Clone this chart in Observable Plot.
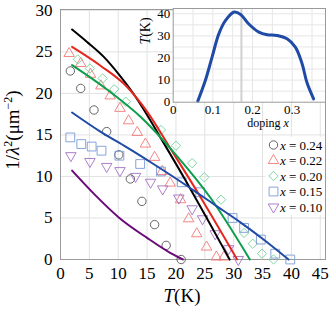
<!DOCTYPE html>
<html><head><meta charset="utf-8">
<script src="https://cdn.jsdelivr.net/npm/d3@7"></script>
<script src="https://cdn.jsdelivr.net/npm/@observablehq/plot@0.6"></script>
<style>
body{margin:0;background:#fff;}
#fig{position:relative;width:332px;height:310px;font-family:"Liberation Serif",serif;}
#fig svg{position:absolute;left:0;top:0;overflow:visible;background:none}
</style></head><body><div id="fig"></div>
<script>
// ---- main chart data: [T (K), 1/lambda^2 (um^-2)] ----
const tempTicks = [0,5,10,15,20,25,30,35,40,45];
const invLambdaTicks = [0,5,10,15,20,25,30];

const x024 = [[1.7,22.7],[3.5,20.6],[5.8,18.0],[8.0,15.4],[10.1,12.6],[12.1,9.7],[14.1,7.0],[16.3,4.2],[18.3,1.7],[20.9,0]];
const x022 = [[1.5,24.8],[3.5,23.6],[5.2,22.3],[7.0,20.9],[8.6,19.7],[10.3,18.2],[11.8,16.7],[13.3,15.3],[14.7,13.9],[16.3,12.3],[17.6,10.6],[19.0,9.2],[20.8,7.2],[22.2,4.9],[23.6,3.1],[25.3,1.5],[27.0,0.3],[28.3,0.3]];
const x020 = [[3.0,24.1],[5.1,23.0],[7.3,21.8],[9.3,20.5],[11.3,19.0],[17.4,15.6],[20.0,13.7],[22.8,11.6],[24.9,9.9],[27.8,7.2],[31.8,3.2],[33.3,1.9],[34.9,0.7],[36.9,0]];
const x015 = [[1.7,14.7],[3.6,13.9],[5.4,13.6],[7.1,13.1],[10.2,12.5],[13.8,11.5],[17.4,10.6],[21.0,9.3],[24.2,8.1],[29.8,5.0],[31.8,3.8],[34.7,2.4],[37.2,0.7],[39.8,0]];
const x010 = [[1.8,12.5],[5.1,11.8],[8.0,11.2],[10.3,10.7],[13.0,10.0],[15.6,9.3],[17.7,8.5],[20.5,7.4],[22.8,6.1],[24.6,4.9],[26.8,3.1],[29.1,1.3],[30.8,0]];

const fitBlack = [[2,27.7],[4.6,26.2],[7.5,24.4],[10.1,22.3],[12.7,19.9],[15,17.4],[17.3,14.7],[21.6,9.6],[25.4,4.9],[29.3,0]];
const fitRed = [[2,25.6],[7,23.3],[11.5,20.8],[15,17.8],[19,13.4],[24,7.8],[30.6,0]];
const fitGreen = [[2,23.4],[8,20.5],[14,17.1],[20,12.6],[26,7.4],[32.8,0]];
const fitBlue = [[2,17.7],[6.9,15.4],[11.5,13.5],[16.1,11.5],[19,10.2],[23.1,8.3],[27.1,6.4],[31.1,4.5],[35,2.5],[39.5,0]];
const fitPurple = [[2,10.7],[5.8,7.9],[10.2,5.0],[15,2.6],[19,0.8],[21.2,0]];

// ---- inset data: Tc vs doping x ----
const dopingX = [0.062,0.081,0.098,0.115,0.132,0.154,0.170,0.190,0.216,0.237,0.262,0.287,0.308,0.325,0.337,0.354];
const tcK     = [0.5,9.8,20.4,30.9,37.0,40.8,39.7,35.5,31.7,30.5,30.2,28.7,24.9,17.4,9.0,1.5];
const insetXTicks = [0,0.1,0.2,0.3];
const insetXGrid = [0.05,0.1,0.15,0.2,0.25,0.3,0.35];
const insetYTicks = [0,10,20,30,40];
const insetYGrid = [5,10,15,20,25,30,35,40];
const markerDoping = [0.172];

const legendLabels = ["0.24","0.22","0.20","0.15","0.10"];

const triDown = { draw(ctx, size){ const s=Math.sqrt(size)*0.6824, t=s/2, u=s*Math.sqrt(3)/2; ctx.moveTo(0,s); ctx.lineTo(u,-t); ctx.lineTo(-u,-t); ctx.closePath(); } };

const series = [
  {data:x024, symbol:"circle", r:4.2, color:"#555555"},
  {data:x022, symbol:"triangle2", r:5, color:"#f07a78"},
  {data:x020, symbol:"diamond2", r:4.2, color:"#72d49a"},
  {data:x015, symbol:"square2", r:5.6, color:"#7b9ad6"},
  {data:x010, symbol:triDown, r:5, color:"#a470c4"}
];
const fits = [
  {data:fitBlack, color:"#000000"},
  {data:fitRed, color:"#e5261e"},
  {data:fitGreen, color:"#0c9e4a"},
  {data:fitBlue, color:"#1f4aa5"},
  {data:fitPurple, color:"#6a0a78"}
];

const serif = "Liberation Serif, Times New Roman, serif";
const main = Plot.plot({
  width:332, height:310, marginLeft:60, marginRight:7, marginTop:9, marginBottom:51,
  style:{fontFamily:serif, color:"#000", background:"transparent"},
  x:{domain:[0,45.9]}, y:{domain:[0,30.1]},
  marks:[
    Plot.gridX(tempTicks,{stroke:"#e2e2e2", strokeOpacity:1}),
    Plot.gridY(invLambdaTicks,{stroke:"#e2e2e2", strokeOpacity:1}),
    Plot.frame({stroke:"#9a9a9a"}),
    Plot.axisX(tempTicks,{tickSize:0, tickPadding:7, fontSize:17, label:null}),
    Plot.axisY(invLambdaTicks,{tickSize:0, tickPadding:8, fontSize:17, label:null}),
    ...series.map(s => Plot.dot(s.data,{x:d=>d[0], y:d=>d[1], symbol:s.symbol, r:s.r, stroke:s.color, strokeWidth:0.9, fill:"none"})),
    ...fits.map(f => Plot.line(f.data,{x:d=>d[0], y:d=>d[1], stroke:f.color, strokeWidth:2, curve:"monotone-x"}))
  ]
});

const inset = Plot.plot({
  width:207, height:130, marginLeft:52.7, marginRight:2, marginTop:8, marginBottom:28.3,
  style:{fontFamily:serif, color:"#000", background:"transparent"},
  x:{domain:[0,0.384]}, y:{domain:[0,42.4]},
  marks:[
    Plot.frame({fill:"white", stroke:"none"}),
    Plot.gridX(insetXGrid,{stroke:"#e6e6e6", strokeOpacity:1}),
    Plot.gridY(insetYGrid,{stroke:"#e6e6e6", strokeOpacity:1}),
    Plot.ruleX(markerDoping,{stroke:"#d0d0d0", strokeWidth:2}),
    Plot.line(dopingX.map((x,i)=>[x,tcK[i]]),{x:d=>d[0], y:d=>d[1], stroke:"#1f4aa5", strokeWidth:3, curve:"catmull-rom"}),
    Plot.frame({stroke:"#9a9a9a"}),
    Plot.axisX(insetXTicks,{tickSize:0, tickPadding:3, fontSize:13, label:null, tickFormat:d=>d===0?"0":d3.format(".1f")(d)}),
    Plot.axisY(insetYTicks,{tickSize:0, tickPadding:3, fontSize:13, label:null})
  ]
});

const fig = document.getElementById("fig");
fig.appendChild(main);
inset.style.left = "120px";
fig.appendChild(inset);

// axis titles on main svg
const ms = d3.select(main);
const xl = ms.append("text").attr("x",182).attr("y",302).attr("text-anchor","middle")
  .attr("font-family",serif).attr("font-size",19).attr("fill","#000");
xl.append("tspan").attr("font-style","italic").text("T");
xl.append("tspan").text("(K)");

const yl = ms.append("text").attr("transform","translate(19,130) rotate(-90)").attr("text-anchor","middle")
  .attr("font-family",serif).attr("font-size",19).attr("fill","#000");
yl.append("tspan").text("1/");
yl.append("tspan").attr("font-style","italic").text("λ");
yl.append("tspan").attr("font-size",12).attr("dy",-7).text("2");
yl.append("tspan").attr("dy",7).text("(μm");
yl.append("tspan").attr("font-size",12).attr("dy",-7).text("−2");
yl.append("tspan").attr("dy",7).text(")");

// legend
const lg = ms.append("g").attr("text-anchor","start");
lg.append("rect").attr("x",265).attr("y",137).attr("width",59).attr("height",78).attr("fill","white");
series.forEach((s,i)=>{
  const y = 145 + i*15.5;
  const sym = typeof s.symbol === "string" ? {circle:d3.symbolCircle, triangle2:d3.symbolTriangle2, diamond2:d3.symbolDiamond2, square2:d3.symbolSquare2}[s.symbol] : s.symbol;
  lg.append("path").attr("d", d3.symbol(sym, s.r*s.r*Math.PI)()).attr("transform",`translate(273.5,${y})`)
    .attr("fill","none").attr("stroke",s.color).attr("stroke-width",0.9);
  const t = lg.append("text").attr("x",280).attr("y",y+4.5).attr("text-anchor","start").attr("font-family",serif).attr("font-size",13).attr("fill","#000");
  t.append("tspan").attr("font-style","italic").text("x");
  t.append("tspan").text(" = " + legendLabels[i]);
});

// inset titles
const is = d3.select(inset);
const il = is.append("text").attr("transform","translate(30,31) rotate(-90)").attr("text-anchor","middle")
  .attr("font-family",serif).attr("font-size",14).attr("fill","#000");
il.append("tspan").attr("font-style","italic").text("T");
il.append("tspan").text("(K)");
const dl = is.append("text").attr("x",148).attr("y",127).attr("text-anchor","middle")
  .attr("font-family",serif).attr("font-size",12).attr("fill","#000");
dl.append("tspan").text("doping ");
dl.append("tspan").attr("font-style","italic").text("x");
</script></body></html>
